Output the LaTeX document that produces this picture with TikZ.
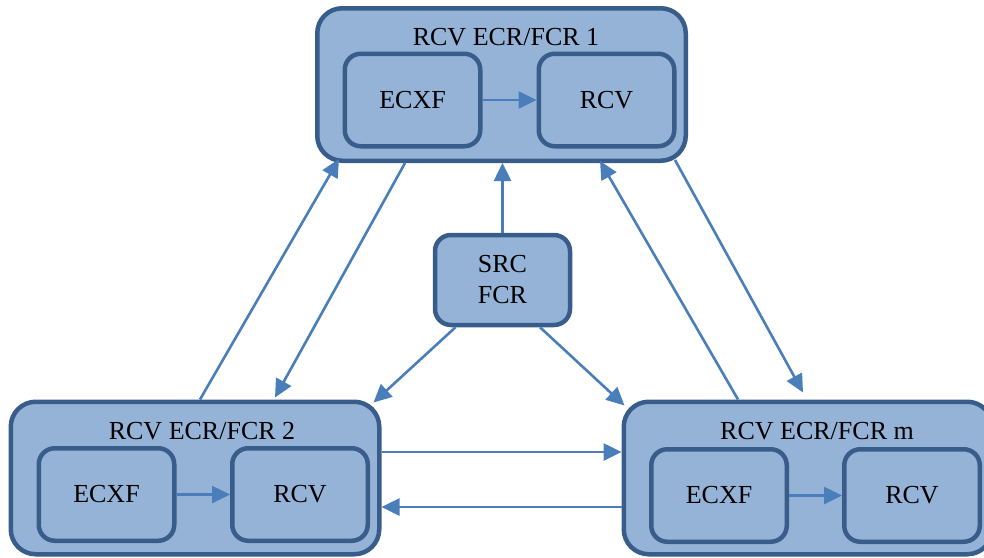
\documentclass[tikz,border=0pt]{standalone}
\usepackage{fontspec}
\setmainfont{Liberation Serif}
\usetikzlibrary{arrows.meta}
\definecolor{boxfill}{HTML}{95B3D7}
\definecolor{boxline}{HTML}{385D8A}
\definecolor{arrowcol}{HTML}{4A7EBB}
\begin{document}
\begin{tikzpicture}[x=1pt,y=-1pt,
  font=\fontsize{26}{31}\selectfont,
  bigbox/.style={draw=boxline,fill=boxfill,line width=4.5pt,rounded corners=25pt,
    minimum width=368.5pt,minimum height=152.5pt,inner sep=0pt},
  smallbox/.style={draw=boxline,fill=boxfill,line width=4.5pt,rounded corners=16pt,
    minimum width=135.5pt,minimum height=92.5pt,inner sep=0pt},
  lbl/.style={inner sep=0pt},
  conn/.style={draw=arrowcol,line width=2.6pt,-{Triangle[length=18pt,width=17pt]}}]
\useasboundingbox (0,0) rectangle (984,557);
% top group
\node[bigbox] (top) at (501.5,84.5) {};
\node[lbl] (toplbl) at (506,37) {RCV ECR/FCR 1};
\node[smallbox] (e1) at (412.5,100) {ECXF};
\node[smallbox] (r1) at (606.5,100) {RCV};
% bottom-left group
\node[bigbox] (bl) at (195,478) {};
\node[lbl] (bllbl) at (202,431) {RCV ECR/FCR 2};
\node[smallbox] (e2) at (106.5,494.5) {ECXF};
\node[smallbox] (r2) at (300,494.5) {RCV};
% bottom-right group
\node[bigbox] (br) at (808,478) {};
\node[lbl] (brlbl) at (817,431) {RCV ECR/FCR m};
\node[smallbox] (e3) at (719,495.5) {ECXF};
\node[smallbox] (r3) at (912,495.5) {RCV};
% SRC FCR
\node[smallbox,minimum width=135pt,minimum height=90pt,align=center] (src) at (502.5,280) {SRC\\FCR};
% inner arrows
\draw[conn] (e1.east) -- (r1.west);
\draw[conn] (e2.east) -- (r2.west);
\draw[conn] (e3.east) -- (r3.west);
% connectors
\draw[conn] (src.north) -- (src.north |- top.south);
\draw[conn] ([xshift=5pt]bl.north) -- ([xshift=24pt,yshift=4pt]top.south west);
\draw[conn] ([xshift=-96.5pt]top.south) -- ([xshift=80pt,yshift=2pt]bl.north);
\draw[conn] ([xshift=-47pt]src.south) -- ([xshift=-8pt,yshift=-3pt]bl.north east);
\draw[conn] ([xshift=37.5pt]src.south) -- ([xshift=3pt,yshift=-6pt]br.north west);
\draw[conn] ([xshift=-70pt]br.north) -- ([xshift=-88pt,yshift=2pt]top.south east);
\draw[conn] ([xshift=-13pt,yshift=3pt]top.south east) -- ([xshift=-5pt,yshift=7pt]br.north);
\draw[conn] ([yshift=26pt]bl.east) -- ([yshift=26pt]br.west);
\draw[conn] ([yshift=-29pt]br.west) -- ([yshift=-29pt]bl.east);
\end{tikzpicture}
\end{document}
